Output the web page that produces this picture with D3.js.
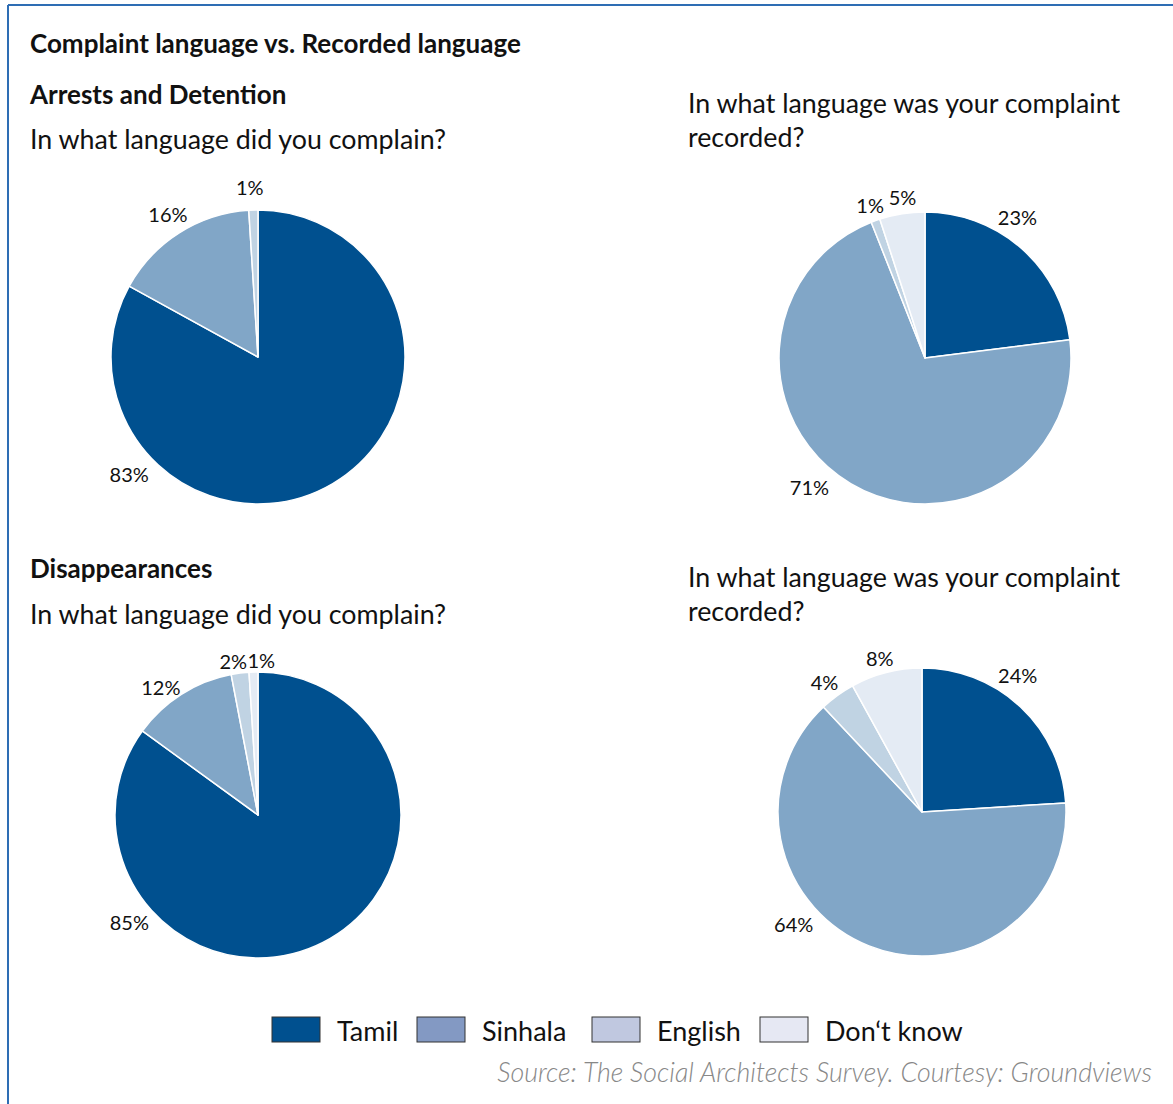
<!DOCTYPE html>
<html>
<head>
<meta charset="utf-8">
<script src="https://cdn.jsdelivr.net/npm/d3@7.9.0/dist/d3.min.js"></script>
<style>
  body { margin: 0; background: #fff; }
  svg { display: block; font-family: Lato, "Open Sans", sans-serif; }
</style>
</head>
<body>
<svg id="chart" width="1173" height="1104"></svg>
<script>
// data
const languages = ['Tamil', 'Sinhala', 'English', "Don\u2018t know"];
const arrestsComplained = [83, 16, 1, 0];
const arrestsRecorded = [23, 71, 1, 5];
const disapComplained = [85, 12, 2, 1];
const disapRecorded = [24, 64, 4, 8];

const sliceColors = ['#00508f', '#81a6c7', '#c0d3e3', '#e4ebf4'];
const legendColors = ['#00508f', '#8399c3', '#c0c8e0', '#e6e8f3'];

const svg = d3.select('#chart');

// frame lines (top and left)
svg.append('line').attr('x1', 8).attr('x2', 1173).attr('y1', 5).attr('y2', 5)
    .attr('stroke', '#2e6db4').attr('stroke-width', 2);
svg.append('line').attr('x1', 8).attr('x2', 8).attr('y1', 5).attr('y2', 1104)
    .attr('stroke', '#2e6db4').attr('stroke-width', 2);

// headings
function text(x, y, str, size, weight, opts = {}) {
    return svg.append('text')
        .attr('x', x).attr('y', y)
        .attr('font-size', size)
        .attr('font-weight', weight)
        .attr('fill', opts.fill || '#111')
        .attr('text-anchor', opts.anchor || 'start')
        .attr('font-style', opts.style || 'normal')
        .text(str);
}
text(30, 53, 'Complaint language vs. Recorded language', 26, 'bold');
text(30, 104, 'Arrests and Detention', 26, 'bold');
text(30, 149, 'In what language did you complain?', 26.8, 'normal');
text(688, 113, 'In what language was your complaint', 26.8, 'normal');
text(688, 147, 'recorded?', 26.8, 'normal');
text(30, 578, 'Disappearances', 26, 'bold');
text(30, 624, 'In what language did you complain?', 26.8, 'normal');
text(688, 587, 'In what language was your complaint', 26.8, 'normal');
text(688, 621, 'recorded?', 26.8, 'normal');

// pies: center, radius, label tweaks (angle nudge in degrees, extra radius)
const pies = [
    { values: arrestsComplained, cx: 258, cy: 357, r: 147,
      nudge: [[78, 28], [0, 21], [-1, 22], [0, 0]] },
    { values: arrestsRecorded, cx: 925, cy: 358, r: 146,
      nudge: [[-8, 22], [11, 28], [0, 16], [1, 16]] },
    { values: disapComplained, cx: 258, cy: 815, r: 143,
      nudge: [[77, 25], [-5, 17], [-2, 12], [3, 11]] },
    { values: disapRecorded, cx: 922, cy: 812, r: 144,
      nudge: [[-8, 22], [27, 27], [-1, 18], [-1, 15]] }
];

const pie = d3.pie().sort(null).value(d => d.value);

pies.forEach(p => {
    const data = p.values.map((v, i) => ({ value: v, idx: i }));
    const arcs = pie(data);
    const arcGen = d3.arc().innerRadius(0).outerRadius(p.r);
    const g = svg.append('g').attr('transform', `translate(${p.cx},${p.cy})`);

    g.selectAll('path')
        .data(arcs.filter(a => a.data.value > 0))
        .join('path')
        .attr('d', arcGen)
        .attr('fill', d => sliceColors[d.data.idx])
        .attr('stroke', '#fff')
        .attr('stroke-width', 1.5)
        .attr('stroke-linejoin', 'round');

    g.selectAll('text')
        .data(arcs.filter(a => a.data.value > 0))
        .join('text')
        .attr('transform', d => {
            const [dAng, dr] = p.nudge[d.data.idx];
            const a = (d.startAngle + d.endAngle) / 2 + dAng * Math.PI / 180;
            const rr = p.r + dr;
            return `translate(${Math.sin(a) * rr},${-Math.cos(a) * rr})`;
        })
        .attr('text-anchor', 'middle')
        .attr('dy', '0.35em')
        .attr('font-size', 20)
        .attr('fill', '#111')
        .text(d => `${d.data.value}%`);
});

// legend
const legendX = d3.scaleOrdinal().domain(languages).range([272, 417, 592, 760]);
const legend = svg.append('g');
languages.forEach((lang, i) => {
    const x = legendX(lang);
    legend.append('rect')
        .attr('x', x).attr('y', 1017).attr('width', 48).attr('height', 25)
        .attr('fill', legendColors[i])
        .attr('stroke', '#333').attr('stroke-width', 1);
    legend.append('text')
        .attr('x', x + 65).attr('y', 1041)
        .attr('font-size', 27)
        .attr('fill', '#111')
        .text(lang);
});

// source
text(1152, 1082, 'Source: The Social Architects Survey. Courtesy: Groundviews', 26.8, '300',
    { anchor: 'end', style: 'italic', fill: '#888' });
</script>
</body>
</html>
